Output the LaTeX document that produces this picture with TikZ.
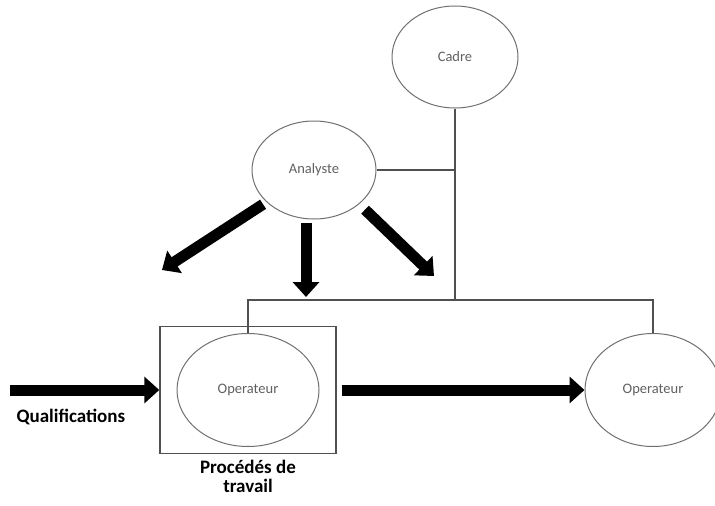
\documentclass[tikz,border=0pt]{standalone}
\usepackage{fontspec}
\setmainfont{Carlito}
\usetikzlibrary{shapes.geometric,arrows.meta}
\definecolor{ringgray}{HTML}{707070}
\definecolor{linegray}{HTML}{505050}
\definecolor{labgray}{HTML}{606060}
\tikzset{
  role/.style={ellipse, draw=ringgray, line width=1pt, inner sep=0pt,
    font=\fontsize{14.5}{17}\selectfont, text=labgray},
  link/.style={draw=linegray, line width=1.4pt},
  fat/.style={line width=11pt, -{Triangle[width=26pt,length=15pt]}},
  caption/.style={font=\bfseries\fontsize{19}{22}\selectfont, align=center}
}
\begin{document}
\begin{tikzpicture}[x=1pt,y=-1pt]
\useasboundingbox (0,0) rectangle (715,506);
% nodes
\node[role, minimum width=126pt, minimum height=102pt] (cadre) at (455,57) {Cadre};
\node[role, minimum width=124pt, minimum height=98pt] (analyste) at (314,170) {Analyste};
\node[draw=linegray, line width=1.4pt, minimum width=176pt, minimum height=127pt, inner sep=0pt] (box) at (248,390) {};
\node[role, minimum width=142pt, minimum height=113pt] (op1) at (248,390) {Operateur};
\node[role, minimum width=136pt, minimum height=113pt] (op2) at (653,390) {Operateur};
\node[caption, anchor=west] (qual) at (13,417) {Qualifications};
\node[caption, anchor=north] (proc) at (248,457) {Procédés de\\[-3pt]travail};
% bus lines
\coordinate (bus) at (455,300);
\coordinate (qstart) at (10,390);
\coordinate (tl) at (162,270);
\coordinate (tm) at (306,297);
\coordinate (tr) at (434,276);
\draw[link] (cadre.south) -- (bus);
\draw[link] (analyste.east) -- (analyste.east -| bus);
\draw[link] (op1.north) -- (op1.north |- bus) -- (op2.north |- bus) -- (op2.north);
% fat arrows
\draw[fat] (qstart) -- (box.west);
\draw[fat, shorten <=5pt] (box.east) -- (op2.west);
\draw[fat, shorten <=4pt] (analyste.214) -- (tl);
\draw[fat, shorten <=3pt] ([xshift=-8pt]analyste.south) -- (tm);
\draw[fat, shorten <=8pt] (analyste.-37) -- (tr);
\end{tikzpicture}
\end{document}
